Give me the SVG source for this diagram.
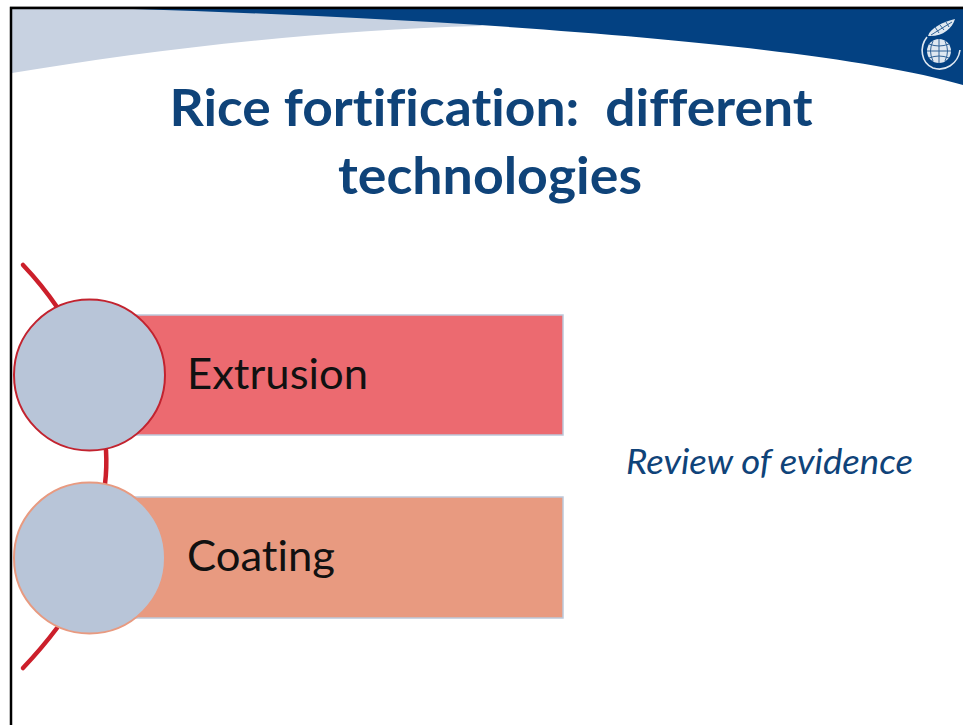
<svg xmlns="http://www.w3.org/2000/svg" width="963" height="725" viewBox="0 0 963 725">
<style>
.t{font-family:"Lato","Carlito","Open Sans",sans-serif;font-variant-ligatures:none}
.title{font-size:52px;font-weight:700;fill:#0f4379;text-anchor:middle}
.lab{font-size:42px;fill:#111}
.wire{fill:none;stroke:#cc1f2b;stroke-width:4.5;stroke-linecap:round}
.circ{fill:#b8c5d8;stroke-width:2}
.bar{stroke:#bcc8da;stroke-width:1.5}
</style>
<rect width="963" height="725" fill="#fff"/>
<g id="banner">
<path d="M12 9H520L480 26C320 30 150 50 12 73Z" fill="#c8d2e1"/>
<path d="M133 9H963V85C870 58 700 40 480 25Q300 14 133 9Z" fill="#034182"/>
</g>
<g id="frame" fill="none" stroke="#000">
<path d="M11 725V8H963" stroke-width="2.5"/>
<path d="M10 6.5H963" stroke="#999" stroke-width="1"/>
</g>
<g id="logo" fill="none" stroke="#dfe8f1">
<circle cx="939" cy="51" r="12" fill="#dfe8f1" stroke="none"/>
<path d="M927 51H951M939 39V63M929 44Q939 48 949 44M929 58Q939 54 949 58M933 41Q928 51 933 61M945 41Q950 51 945 61" stroke="#2f6196" stroke-width="1"/>
<path d="M927 37C919 47 921 63 933 68C945 72 958 64 960 50" stroke-width="1.6"/>
<path d="M928 36C930 28 943 22 955 19C952 29 942 37 928 36Z" fill="#dfe8f1" stroke="none"/>
<path d="M931 35L952 22M935 27L939 33M940 25L944 30M946 22L949 27" stroke="#2f6196" stroke-width="1"/>
</g>
<text class="t title" x="491" y="126" xml:space="preserve" textLength="643" lengthAdjust="spacingAndGlyphs">Rice fortification:  different</text>
<text class="t title" x="490" y="194" textLength="304" lengthAdjust="spacingAndGlyphs">technologies</text>
<g id="connectors">
<path class="wire" d="M23 265Q42 285 57 307"/>
<path class="wire" d="M106 450Q107 468 105 484"/>
<path class="wire" d="M57 628Q42 648 23 668"/>
</g>
<g id="extrusion">
<rect class="bar" x="100" y="315" width="463" height="120" fill="#ec6a70"/>
<circle class="circ" cx="89.5" cy="375" r="75.5" stroke="#c2232f"/>
<text class="t lab" x="187" y="389" textLength="181" lengthAdjust="spacingAndGlyphs">Extrusion</text>
</g>
<g id="coating">
<rect class="bar" x="100" y="497" width="463" height="121" fill="#e89a80"/>
<circle class="circ" cx="89.5" cy="558" r="75.5" stroke="#e89a80"/>
<text class="t lab" x="187" y="571" textLength="148" lengthAdjust="spacingAndGlyphs">Coating</text>
</g>
<text class="t" x="626" y="474" font-size="34" font-style="italic" fill="#0f4379" textLength="287" lengthAdjust="spacingAndGlyphs">Review of evidence</text>
</svg>
